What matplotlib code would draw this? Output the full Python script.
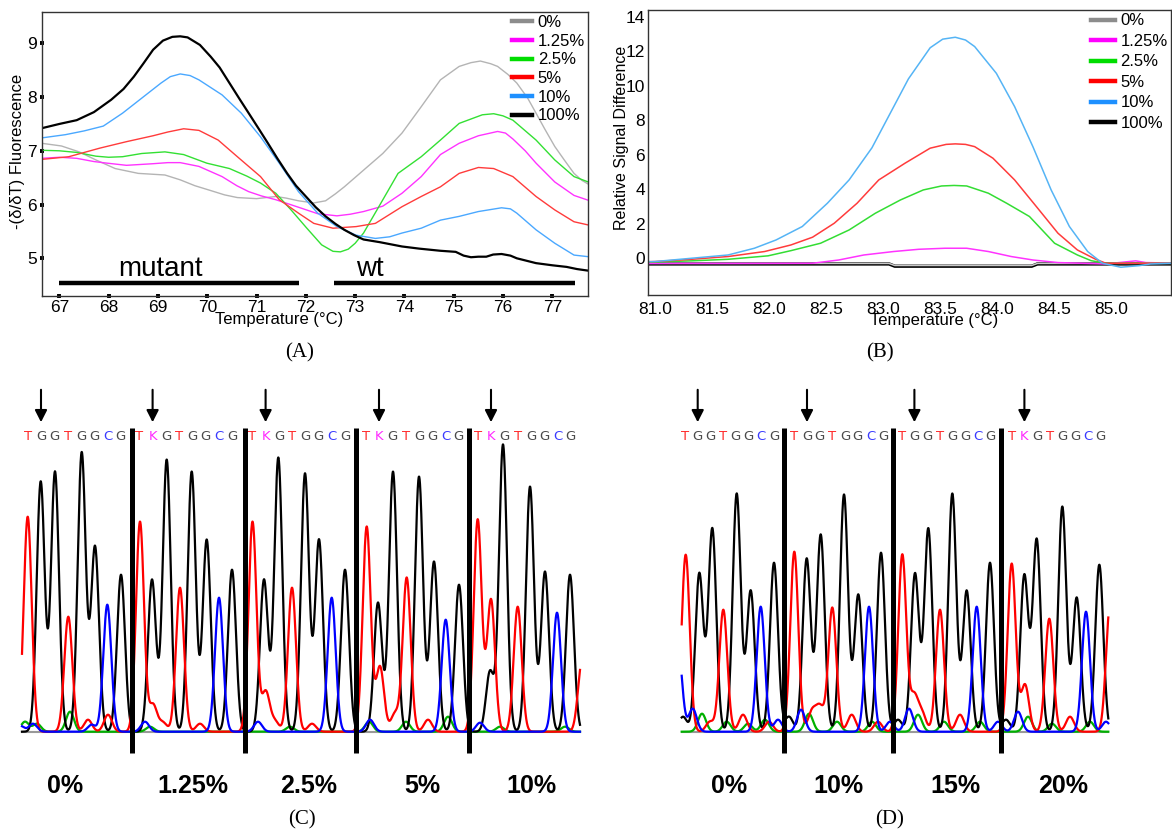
import numpy as np
import matplotlib.pyplot as plt
from matplotlib.lines import Line2D

plt.rcParams['font.family'] = ['Liberation Sans', 'DejaVu Sans']

W, H = 1172, 835
fig = plt.figure(figsize=(W / 100, H / 100), dpi=100)


def px_axes(x0, y0, x1, y1):
    # axes placed by pixel box (left, top, right, bottom)
    return fig.add_axes([x0 / W, 1 - y1 / H, (x1 - x0) / W, (y1 - y0) / H])


# ---------------- data: panel A (melt curves) ----------------
conc_labels = ['0%', '1.25%', '2.5%', '5%', '10%', '100%']
legend_colors = ['#8c8c8c', '#ff00ff', '#00dd00', '#ff0000', '#1e90ff', '#000000']

a_t_0 = [66.64, 67.04, 67.4, 67.74, 68.13, 68.6, 69.14, 69.45, 69.75, 70.07, 70.35, 70.61, 71.0, 71.39,
         71.6, 71.85, 72.16, 72.4, 72.6, 72.78, 73.17, 73.56, 73.95, 74.34, 74.73, 75.11, 75.35, 75.54,
         75.75, 75.89, 76.1, 76.28, 76.5, 76.67, 76.85, 77.05, 77.25, 77.44, 77.6, 77.73]
a_f_0 = [7.14, 7.09, 6.98, 6.83, 6.67, 6.58, 6.55, 6.46, 6.35, 6.26, 6.18, 6.13, 6.11, 6.15,
         6.12, 6.07, 6.03, 6.07, 6.2, 6.33, 6.64, 6.95, 7.33, 7.82, 8.32, 8.57, 8.64, 8.67,
         8.62, 8.57, 8.42, 8.26, 7.98, 7.70, 7.40, 7.08, 6.82, 6.58, 6.45, 6.38]

a_t_1 = [66.64, 67.0, 67.35, 67.7, 67.97, 68.36, 68.9, 69.2, 69.45, 69.83, 70.3, 70.6, 70.84, 71.1,
         71.39, 71.85, 72.24, 72.63, 72.9, 73.17, 73.56, 73.95, 74.34, 74.73, 75.11, 75.5, 75.89,
         76.05, 76.2, 76.45, 76.67, 77.05, 77.44, 77.73]
a_f_1 = [6.86, 6.88, 6.86, 6.80, 6.77, 6.73, 6.76, 6.78, 6.78, 6.71, 6.52, 6.35, 6.24, 6.16,
         6.09, 5.95, 5.83, 5.79, 5.82, 5.87, 5.97, 6.21, 6.52, 6.93, 7.14, 7.28, 7.36,
         7.33, 7.22, 7.0, 6.77, 6.42, 6.17, 6.08]

a_t_2 = [66.64, 67.0, 67.35, 67.74, 68.0, 68.28, 68.67, 69.14, 69.52, 69.99, 70.45, 70.8, 71.08,
         71.39, 71.7, 72.01, 72.32, 72.55, 72.7, 72.86, 73.0, 73.17, 73.48, 73.87, 74.34, 74.73,
         75.11, 75.58, 75.81, 76.0, 76.2, 76.67, 77.05, 77.44, 77.73]
a_f_2 = [7.01, 7.0, 6.97, 6.90, 6.88, 6.89, 6.95, 6.98, 6.93, 6.77, 6.67, 6.53, 6.40,
         6.21, 5.90, 5.57, 5.25, 5.13, 5.12, 5.17, 5.28, 5.47, 5.96, 6.58, 6.89, 7.2,
         7.51, 7.67, 7.69, 7.65, 7.57, 7.2, 6.83, 6.52, 6.42]

a_t_3 = [66.64, 67.19, 67.82, 68.36, 68.9, 69.2, 69.52, 69.83, 70.22, 70.61, 71.08, 71.46, 71.85,
         72.16, 72.55, 73.02, 73.41, 73.95, 74.34, 74.73, 75.11, 75.5, 75.81, 76.2, 76.67, 77.05,
         77.44, 77.73]
a_f_3 = [6.84, 6.89, 7.05, 7.17, 7.28, 7.35, 7.41, 7.38, 7.2, 6.89, 6.52, 6.09, 5.84,
         5.65, 5.56, 5.59, 5.65, 5.96, 6.15, 6.33, 6.58, 6.69, 6.67, 6.52, 6.15, 5.90,
         5.68, 5.62]

a_t_4 = [66.64, 67.12, 67.5, 67.89, 68.28, 68.67, 69.06, 69.25, 69.45, 69.65, 69.83, 70.3, 70.69,
         71.08, 71.46, 71.85, 72.24, 72.63, 73.02, 73.41, 73.7, 73.95, 74.34, 74.73, 75.11, 75.5,
         75.97, 76.15, 76.28, 76.67, 77.05, 77.44, 77.73]
a_f_4 = [7.24, 7.30, 7.37, 7.46, 7.70, 7.98, 8.26, 8.38, 8.43, 8.40, 8.32, 8.04, 7.70,
         7.26, 6.77, 6.24, 5.84, 5.59, 5.43, 5.37, 5.40, 5.47, 5.56, 5.71, 5.78, 5.87,
         5.94, 5.92, 5.84, 5.53, 5.28, 5.06, 5.03]

a_t_5 = [66.64, 67.0, 67.35, 67.7, 68.05, 68.3, 68.51, 68.7, 68.9, 69.1, 69.29, 69.45, 69.6, 69.85,
         70.07, 70.25, 70.45, 70.65, 70.84, 71.05, 71.23, 71.42, 71.62, 71.8, 72.0, 72.2, 72.4,
         72.6, 72.78, 72.98, 73.17, 73.5, 73.95, 74.3, 74.73, 75.04, 75.2, 75.35, 75.5, 75.66,
         75.8, 75.97, 76.15, 76.28, 76.67, 77.0, 77.29, 77.5, 77.73]
a_f_5 = [7.42, 7.50, 7.57, 7.72, 7.95, 8.15, 8.38, 8.62, 8.88, 9.05, 9.12, 9.13, 9.11, 8.97,
         8.75, 8.55, 8.26, 7.97, 7.70, 7.40, 7.14, 6.86, 6.58, 6.35, 6.15, 5.95, 5.78,
         5.64, 5.53, 5.43, 5.35, 5.30, 5.22, 5.18, 5.14, 5.12, 5.05, 5.02, 5.03, 5.03,
         5.07, 5.08, 5.05, 5.00, 4.91, 4.87, 4.84, 4.80, 4.77]

a_colors = ['#b4b4b4', '#ff33ff', '#33e033', '#ff3b3b', '#4aa8ff', '#000000']
region_names = ['mutant', 'wt']
region_start = [67.0, 72.57]
region_end = [71.87, 77.46]
region_text_t = [69.04, 73.29]

# ---------------- data: panel B (difference plot) ----------------
b_t_0 = [80.94, 83.05, 83.1, 84.3, 84.35, 85.52]
b_s_0 = [-0.30, -0.30, -0.42, -0.42, -0.30, -0.30]
b_t_1 = [80.94, 81.7, 82.38, 82.61, 82.83, 83.09, 83.31, 83.54, 83.73, 83.92, 84.12, 84.31, 84.53,
         84.95, 85.21, 85.3, 85.52]
b_s_1 = [-0.30, -0.30, -0.29, -0.10, 0.19, 0.39, 0.52, 0.58, 0.58, 0.39, 0.10, -0.10, -0.25,
         -0.33, -0.15, -0.25, -0.28]
b_t_2 = [80.94, 81.32, 81.64, 81.99, 82.19, 82.45, 82.7, 82.93, 83.15, 83.35, 83.51, 83.62, 83.73,
         83.92, 84.08, 84.28, 84.5, 84.7, 84.82, 84.95, 85.52]
b_s_2 = [-0.23, -0.15, -0.06, 0.14, 0.44, 0.87, 1.64, 2.61, 3.38, 3.96, 4.19, 4.22, 4.19,
         3.77, 3.19, 2.42, 0.87, 0.19, -0.14, -0.29, -0.29]
b_t_3 = [80.94, 81.0, 81.32, 81.64, 81.96, 82.19, 82.38, 82.57, 82.77, 82.96, 83.19, 83.41, 83.55,
         83.63, 83.72, 83.8, 83.96, 84.15, 84.34, 84.53, 84.7, 84.86, 84.95, 85.52]
b_s_3 = [-0.20, -0.19, -0.06, 0.10, 0.39, 0.77, 1.22, 2.03, 3.19, 4.54, 5.51, 6.38, 6.60,
         6.63, 6.60, 6.47, 5.80, 4.54, 3.00, 1.45, 0.48, -0.06, -0.29, -0.29]
b_t_4 = [80.94, 81.0, 81.32, 81.64, 81.87, 82.06, 82.29, 82.51, 82.7, 82.9, 83.06, 83.22, 83.41,
         83.52, 83.63, 83.72, 83.8, 83.99, 84.15, 84.31, 84.47, 84.63, 84.79, 84.92, 85.08, 85.24,
         85.34, 85.52]
b_s_4 = [-0.20, -0.19, 0.00, 0.19, 0.58, 1.06, 1.84, 3.19, 4.54, 6.40, 8.40, 10.40, 12.20,
         12.70, 12.81, 12.65, 12.27, 10.72, 8.79, 6.47, 3.96, 1.84, 0.39, -0.29, -0.52, -0.43,
         -0.33, -0.29]
b_t_5 = [80.94, 83.05, 83.1, 84.3, 84.35, 85.52]
b_s_5 = [-0.33, -0.33, -0.46, -0.46, -0.33, -0.33]
b_colors = ['#c8c8c8', '#ff33ff', '#33dd33', '#ff3b3b', '#55b4f5', '#000000']

# ---------------- data: panels C and D (sequencing traces) ----------------
# peaks: (scan position, height)
c_black = [(40.7, 250), (55, 260), (81.7, 279), (95, 185), (121, 157),
           (152, 152), (166.7, 272), (191.7, 260), (206.7, 192), (232, 162),
           (264, 152), (278.3, 274), (305, 258), (319, 192), (345, 162),
           (378, 129), (393, 260), (419, 255), (434, 170), (459, 147),
           (490, 60), (503, 287), (530, 245), (545, 160), (570, 157)]
c_red = [(27.7, 215), (68.3, 115), (88, 12), (108, 17),
         (140, 210), (153, 27), (163, 9), (180, 144), (200, 8),
         (252.5, 210), (265.7, 40), (275, 10), (292, 144), (312, 8),
         (366.7, 205), (380, 65), (395, 18), (406.7, 154), (428, 12),
         (477.7, 212), (491, 132), (517.7, 125), (582, 70)]
c_blue = [(20, 6), (33, 8), (91.7, 7), (107.3, 127), (145, 10), (219, 134), (258, 10),
          (331.7, 134), (370, 12), (445.7, 112), (480, 9), (557, 119)]
c_green = [(25, 10), (37, 8), (70, 20), (150, 5), (290, 5), (369, 10), (406, 10), (448, 15),
           (500, 5), (565, 5)]
c_seqs = ['TGGTGGCG', 'TKGTGGCG', 'TKGTGGCG', 'TKGTGGCG', 'TKGTGGCG']
c_labels = ['0%', '1.25%', '2.5%', '5%', '10%']
c_label_x = [65, 193, 309, 422, 531]
c_seq_first = [27.7, 139.3, 252.3, 365.7, 477.7]
c_sep = [131.7, 245, 356, 469]

d_black = [(683, 15), (699.3, 158), (712.3, 203), (736.7, 238), (750.7, 141), (774, 169),
           (789, 15), (806.7, 173), (820.7, 197), (844, 237), (858.3, 137), (881, 179),
           (898, 12), (915, 158), (928.3, 203), (952.3, 238), (966.7, 141), (990, 169),
           (1006, 12), (1024.3, 156), (1036.7, 192), (1062.3, 225), (1076.7, 134), (1099.3, 167)]
d_red = [(685.7, 177), (710, 10), (723.3, 122), (743, 17), (769, 10),
         (794.3, 180), (812, 20), (820, 24), (832.3, 124), (851.7, 17), (878, 10),
         (902.3, 177), (914, 35), (922, 18), (940, 122), (960, 17),
         (1011.7, 168), (1025, 47), (1049.3, 113), (1070, 15), (1110, 125)]
d_blue = [(678, 85), (692.7, 23), (760.7, 125), (778, 12), (801, 22), (869, 125), (890, 10),
          (909, 23), (976.7, 125), (998, 10), (1018, 20), (1086, 120), (1106, 10)]
d_green = [(702, 18), (726.7, 10), (748, 8), (765, 12), (809, 18), (837, 10), (872, 10),
           (918, 17), (944, 10), (980, 10), (1028, 15), (1052, 8), (1090, 10)]
d_seqs = ['TGGTGGCG', 'TGGTGGCG', 'TGGTGGCG', 'TKGTGGCG']
d_labels = ['0%', '10%', '15%', '20%']
d_label_x = [729, 838, 955, 1063]
d_seq_first = [685, 794.3, 901.7, 1011.7]
d_sep = [784.3, 893, 1001]

base_colors = {'T': '#ff2a2a', 'G': '#4a4a4a', 'C': '#3a3aff', 'K': '#ff2aff'}
peak_sigma = 4.0

# ---------------- panel A ----------------
axA = px_axes(41.7, 11.7, 588.3, 295.5)
a_t = [a_t_0, a_t_1, a_t_2, a_t_3, a_t_4, a_t_5]
a_f = [a_f_0, a_f_1, a_f_2, a_f_3, a_f_4, a_f_5]
for i in range(6):
    axA.plot(a_t[i], a_f[i], color=a_colors[i], lw=1.6 if i == 5 else 1.0,
             solid_joinstyle='round')
for name, t0, t1, tt in zip(region_names, region_start, region_end, region_text_t):
    axA.plot([t0, t1], [4.546, 4.546], color='k', lw=3.2, solid_capstyle='butt')
    axA.text(tt, 4.67, name, fontsize=20, ha='center', va='baseline')
axA.set_xlim(66.64, 77.73)
axA.set_ylim(4.308, 9.588)
axA.set_xticks(range(67, 78))
axA.set_yticks(range(5, 10))
axA.tick_params(direction='inout', length=3, width=2.8, labelsize=12.5, pad=2)
for s in axA.spines.values():
    s.set_linewidth(1.0)
    s.set_color('#333333')
axA.text(0.435, -0.0845, 'Temperature (°C)', transform=axA.transAxes,
         ha='center', va='center', fontsize=12)
axA.text(-0.0434, 0.506, '-(δ/δT) Fluorescence', transform=axA.transAxes,
         ha='center', va='center', rotation=90, fontsize=12)
hA = [Line2D([0], [0], color=c, lw=3.2) for c in legend_colors]
axA.legend(hA, conc_labels, loc='upper right', bbox_to_anchor=(1.0, 1.0), frameon=False,
           fontsize=12, handlelength=1.2, handletextpad=0.35, labelspacing=0.22,
           borderaxespad=0.1, borderpad=0.1)

# ---------------- panel B ----------------
axB = px_axes(648.3, 10, 1171, 295)
b_t = [b_t_0, b_t_1, b_t_2, b_t_3, b_t_4, b_t_5]
b_s = [b_s_0, b_s_1, b_s_2, b_s_3, b_s_4, b_s_5]
axB.plot(b_t[5], b_s[5], color=b_colors[5], lw=2.4)
for i in range(5):
    axB.plot(b_t[i], b_s[i], color=b_colors[i], lw=1.1, solid_joinstyle='round')
axB.set_xlim(80.941, 85.52)
axB.set_ylim(-2.13, 14.39)
bx = [81.0, 81.5, 82.0, 82.5, 83.0, 83.5, 84.0, 84.5, 85.0]
axB.set_xticks(bx)
axB.set_xticklabels([f'{v:.1f}' for v in bx])
axB.set_yticks(range(0, 15, 2))
axB.tick_params(length=0, labelsize=12.5)
axB.tick_params(axis='x', pad=5)
axB.tick_params(axis='y', pad=2.5)
for s in axB.spines.values():
    s.set_linewidth(1.0)
    s.set_color('#333333')
axB.text(0.546, -0.09, 'Temperature (°C)', transform=axB.transAxes,
         ha='center', va='center', fontsize=12)
axB.text(-0.0509, 0.553, 'Relative Signal Difference', transform=axB.transAxes,
         ha='center', va='center', rotation=90, fontsize=11.5)
hB = [Line2D([0], [0], color=c, lw=3.2) for c in legend_colors]
axB.legend(hB, conc_labels, loc='upper right', bbox_to_anchor=(1.0, 1.0), frameon=False,
           fontsize=12, handlelength=1.45, handletextpad=0.3, labelspacing=0.33,
           borderaxespad=0.1, borderpad=0.1)


# ---------------- panels C and D ----------------
def trace(ax, x, peaks, color):
    y = np.zeros_like(x)
    for p, h in peaks:
        y += h * np.exp(-(x - p) ** 2 / (2 * peak_sigma ** 2))
    ax.plot(x, y, color=color, lw=1.6)


def chromatogram(ax, x0, x1, black, red, blue, green, seqs, first, step, seps, labels, label_x):
    x = np.linspace(x0, x1, 3000)
    ax.plot([x0, x1], [0, 0], color='#999999', lw=1.5)
    trace(ax, x, green, '#00b000')
    trace(ax, x, black, '#000000')
    trace(ax, x, red, '#ff0000')
    trace(ax, x, blue, '#0000ff')
    ax.vlines(seps, -21.3, 303.7, color='k', lw=3.6)
    for seq, f in zip(seqs, first):
        for j, ch in enumerate(seq):
            ax.text(f + j * step, 295.7, ch, color=base_colors[ch], fontsize=9.5,
                    family='DejaVu Sans', ha='center', va='center')
        ax.annotate('', xy=(f + step, 306.7), xytext=(f + step, 344.7),
                    arrowprops=dict(arrowstyle='-|>,head_length=0.55,head_width=0.28',
                                    color='k', lw=1.5, mutation_scale=13))
    for lab, lx in zip(labels, label_x):
        ax.text(lx, -54, lab, fontsize=18, fontweight='bold', ha='center', va='center')


axC = px_axes(15, 380, 590, 800)
axC.set_xlim(15, 590)
axC.set_ylim(-68.3, 351.7)
axC.axis('off')
chromatogram(axC, 22, 580, c_black, c_red, c_blue, c_green, c_seqs, c_seq_first, 13.3,
             c_sep, c_labels, c_label_x)

axD = px_axes(670, 380, 1120, 800)
axD.set_xlim(670, 1120)
axD.set_ylim(-68.3, 351.7)
axD.axis('off')
chromatogram(axD, 681.7, 1108.3, d_black, d_red, d_blue, d_green, d_seqs, d_seq_first, 12.7,
             d_sep, d_labels, d_label_x)

for lab, x, y in [('(A)', 300, 353), ('(B)', 880, 353), ('(C)', 302, 820), ('(D)', 890, 820)]:
    fig.text(x / W, 1 - y / H, lab, family='Liberation Serif', fontsize=15,
             ha='center', va='center')

fig.savefig('out.png', dpi=100)
